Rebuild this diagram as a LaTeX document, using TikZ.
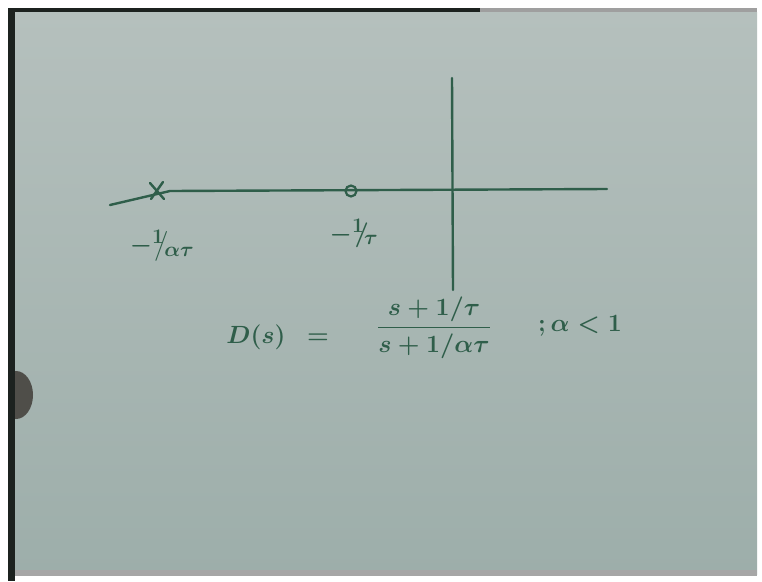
\documentclass[tikz,border=0pt]{standalone}
\usepackage{amsmath}
\definecolor{inkc}{HTML}{2F5E4A}
\definecolor{paperTop}{HTML}{B5C0BD}
\definecolor{paperBot}{HTML}{9DAEAA}
\definecolor{frameDark}{HTML}{1C221F}
\definecolor{thumbc}{HTML}{3A3530}
\begin{document}
\begin{tikzpicture}[x=1pt,y=-1pt,
  ink/.style={draw=inkc, line width=2.4pt, line cap=round, line join=round},
  lbl/.style={text=inkc, inner sep=0pt, font=\fontsize{29}{32}\selectfont\boldmath},
  eqn/.style={text=inkc, inner sep=0pt, font=\fontsize{31}{36}\selectfont\boldmath}]
\useasboundingbox (0,0) rectangle (762,581);
\fill[white] (0,0) rectangle (762,581);
% paper
\shade[top color=paperTop, bottom color=paperBot] (14,12) rectangle (757,574);
\fill[frameDark] (8,8) rectangle (15,581);
\fill[frameDark] (8,8) rectangle (480,12);
\fill[gray!75] (480,8) rectangle (757,12);
\fill[gray!70] (15,570) rectangle (757,576);
\begin{scope}
\clip (15,0) rectangle (80,581);
\fill[thumbc, opacity=0.8] (16,395) ellipse (17 and 24);
\end{scope}
% axes
\coordinate (hl) at (110,205);
\coordinate (hk) at (170,191);
\coordinate (hr) at (607,189);
\coordinate (vt) at (452,78);
\coordinate (vb) at (453,290);
\draw[ink] (hl) -- (hk) -- (hr);
\draw[ink] (vt) -- (vb);
% pole (cross) and zero (circle)
\coordinate (pole) at (157,191);
\draw[ink] ([shift={(-7,-8)}]pole) -- ([shift={(7,8)}]pole);
\draw[ink] ([shift={(-6,8)}]pole) -- ([shift={(6,-9)}]pole);
\node[circle, draw=inkc, line width=2.2pt, minimum size=11pt, inner sep=0pt] (zero) at (351,191) {};
% labels
\node[lbl] (lp) at (162,246) {$-{}^{1}\!\!\big/\!_{\alpha\tau}$};
\node[lbl] (lz) at (354,233) {$-{}^{1}\!\!/\!_{\tau}$};
% equation
\node[eqn] (D) at (256,337) {$D(s)$};
\node[eqn] (eq) at (318,339) {$=$};
\node[eqn] (frac) at (434,328) {$\dfrac{s+1/\tau}{s+1/\alpha\tau}$};
\node[eqn] (cond) at (580,326) {$;\alpha<1$};
\end{tikzpicture}
\end{document}
